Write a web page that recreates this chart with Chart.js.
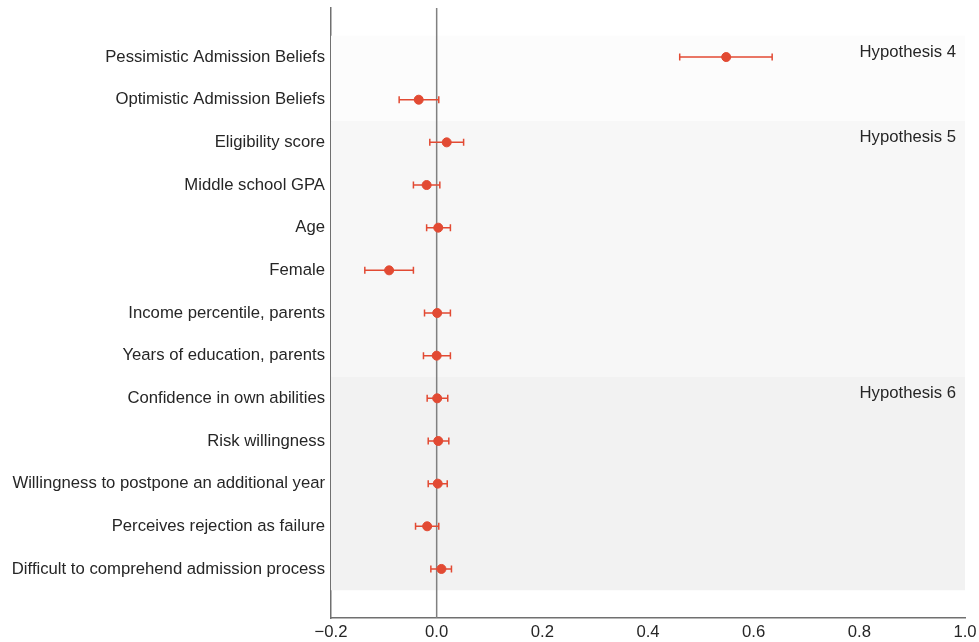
<!DOCTYPE html>
<html>
<head>
<meta charset="utf-8">
<script src="https://cdn.jsdelivr.net/npm/chart.js@4.4.0/dist/chart.umd.min.js"></script>
<style>
  html, body { margin: 0; padding: 0; background: #fff; }
  #wrap { width: 979px; height: 642px; }
</style>
</head>
<body>
<div id="wrap"><canvas id="coefChart"></canvas></div>
<script>
// Variables, top to bottom
const labels = [
    'Pessimistic Admission Beliefs',
    'Optimistic Admission Beliefs',
    'Eligibility score',
    'Middle school GPA',
    'Age',
    'Female',
    'Income percentile, parents',
    'Years of education, parents',
    'Confidence in own abilities',
    'Risk willingness',
    'Willingness to postpone an additional year',
    'Perceives rejection as failure',
    'Difficult to comprehend admission process'
];
const coefs = [0.548, -0.034, 0.019, -0.019, 0.003, -0.090, 0.001, 0.000, 0.001, 0.003, 0.002, -0.018, 0.009];
const ciLow = [0.460, -0.071, -0.013, -0.044, -0.019, -0.136, -0.023, -0.025, -0.018, -0.016, -0.016, -0.040, -0.011];
const ciHigh = [0.635, 0.004, 0.051, 0.006, 0.026, -0.044, 0.026, 0.026, 0.021, 0.023, 0.020, 0.004, 0.028];

// Hypothesis groups (first and last row of each)
const groupNames = ['Hypothesis 4', 'Hypothesis 5', 'Hypothesis 6'];
const groupFirst = [0, 2, 8];
const groupLast = [1, 7, 12];
const groupColors = ['#fcfcfc', '#f7f7f7', '#f2f2f2'];

const xTicks = [-0.2, 0, 0.2, 0.4, 0.6, 0.8, 1.0];

const red = '#e24a33';
const textColor = '#262626';
const fontFamily = '"Liberation Sans", Arial, sans-serif';
const fontSize = 16.7;

// Shaded bands, group labels, zero line and error bars
const bandsPlugin = {
    id: 'bands',
    beforeDatasetsDraw(chart) {
        const ctx = chart.ctx;
        const area = chart.chartArea;
        const x = chart.scales.x;
        const y = chart.scales.y;
        ctx.save();
        groupNames.forEach(function (name, i) {
            const top = y.getPixelForValue(groupFirst[i] - 0.5);
            const bottom = y.getPixelForValue(groupLast[i] + 0.5);
            ctx.fillStyle = groupColors[i];
            ctx.fillRect(area.left, top, area.right - area.left, bottom - top);
        });
        groupNames.forEach(function (name, i) {
            const top = y.getPixelForValue(groupFirst[i] - 0.5);
            ctx.fillStyle = textColor;
            ctx.font = fontSize + 'px ' + fontFamily;
            ctx.textAlign = 'right';
            ctx.textBaseline = 'top';
            ctx.fillText(name, area.right - 9, top + 8);
        });
        const x0 = x.getPixelForValue(0);
        ctx.strokeStyle = '#808080';
        ctx.lineWidth = 1.5;
        ctx.beginPath();
        ctx.moveTo(x0, area.top);
        ctx.lineTo(x0, area.bottom);
        ctx.stroke();

        // error bars
        ctx.strokeStyle = red;
        ctx.lineWidth = 1.5;
        coefs.forEach(function (c, i) {
            const py = y.getPixelForValue(i);
            const a = x.getPixelForValue(ciLow[i]);
            const b = x.getPixelForValue(ciHigh[i]);
            ctx.beginPath();
            ctx.moveTo(a, py);
            ctx.lineTo(b, py);
            ctx.moveTo(a, py - 3.5);
            ctx.lineTo(a, py + 3.5);
            ctx.moveTo(b, py - 3.5);
            ctx.lineTo(b, py + 3.5);
            ctx.stroke();
        });
        ctx.restore();
    }
};

const ctx = document.getElementById('coefChart').getContext('2d');
const coefChart = new Chart(ctx, {
    type: 'scatter',
    data: {
        datasets: [{
            data: coefs.map(function (c, i) { return { x: c, y: i }; }),
            backgroundColor: red,
            borderColor: red,
            pointRadius: 4.5,
            pointHoverRadius: 4.5
        }]
    },
    options: {
        responsive: true,
        maintainAspectRatio: false,
        animation: false,
        layout: { padding: { top: 8, right: 14, left: 0, bottom: 0 } },
        plugins: {
            legend: { display: false },
            tooltip: { enabled: false }
        },
        scales: {
            x: {
                type: 'linear',
                min: -0.2,
                max: 1.0,
                afterBuildTicks: function (scale) {
                    scale.ticks = xTicks.map(function (v) { return { value: v }; });
                },
                afterFit: function (scale) {
                    scale.height = 24;
                    scale.paddingLeft = 0;
                    scale.paddingRight = 0;
                },
                grid: { display: false, drawTicks: false },
                border: { display: true, color: '#707070', width: 1.5 },
                ticks: {
                    color: textColor,
                    padding: 4,
                    font: { size: fontSize, family: fontFamily },
                    callback: function (v) {
                        const s = Math.abs(v).toFixed(1);
                        return v < -1e-9 ? '\u2212' + s : s;
                    }
                }
            },
            y: {
                type: 'linear',
                reverse: true,
                min: -1.15,
                max: 13.15,
                afterBuildTicks: function (scale) {
                    scale.ticks = labels.map(function (l, i) { return { value: i }; });
                },
                afterFit: function (scale) {
                    scale.width = 331;
                    scale.paddingTop = 0;
                    scale.paddingBottom = 0;
                },
                grid: { display: false, drawTicks: false },
                border: { display: true, color: '#707070', width: 1.5 },
                ticks: {
                    color: textColor,
                    padding: 6,
                    autoSkip: false,
                    font: { size: fontSize, family: fontFamily },
                    callback: function (v) { return labels[v]; }
                }
            }
        }
    },
    plugins: [bandsPlugin]
});
</script>
</body>
</html>
